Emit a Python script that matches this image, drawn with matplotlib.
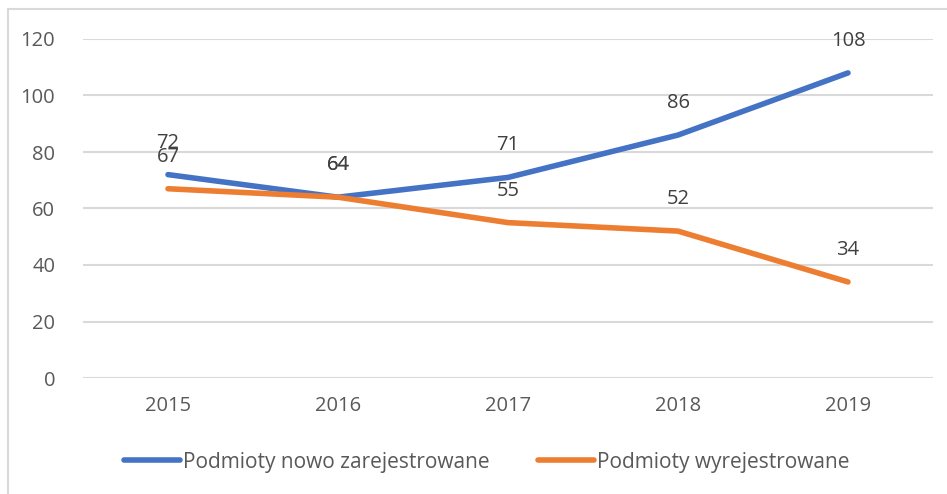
import matplotlib.pyplot as plt
from matplotlib.patches import Rectangle

years = ['2015', '2016', '2017', '2018', '2019']
nowe = [72, 64, 71, 86, 108]
wyrej = [67, 64, 55, 52, 34]
yticks = [0, 20, 40, 60, 80, 100, 120]

plt.rcParams['font.family'] = ['Open Sans', 'DejaVu Sans']

W, H = 947, 494
fig = plt.figure(figsize=(W / 100, H / 100), dpi=100)
# ramka wykresu (widoczna tylko z lewej i u góry)
fig.patches.append(Rectangle((8 / W, -0.1), 1.2, 1.1 - 9 / H, transform=fig.transFigure,
                             fill=False, edgecolor='#d9d9d9', lw=1.5))

ax = fig.add_axes([83 / W, 1 - 378 / H, 850 / W, 339 / H])
x = range(len(years))
ax.plot(x, nowe, color='#4472c4', lw=4, solid_capstyle='round',
        label='Podmioty nowo zarejestrowane', zorder=3)
ax.plot(x, wyrej, color='#ed7d31', lw=4, solid_capstyle='round',
        label='Podmioty wyrejestrowane', zorder=3)

for xi, v in zip(x, nowe):
    ax.annotate(str(v), (xi, v), xytext=(0, 23), textcoords='offset points',
                ha='center', va='center', fontsize=14.5, color='#404040')
for xi, v in zip(x, wyrej):
    ax.annotate(str(v), (xi, v), xytext=(0, 23), textcoords='offset points',
                ha='center', va='center', fontsize=14.5, color='#404040')

ax.set_xlim(-0.5, 4.5)
ax.set_ylim(0, 120)
ax.set_yticks(yticks)
ax.set_xticks(list(x))
ax.set_xticklabels(years)
ax.grid(axis='y', color='#d9d9d9', lw=1.5)
ax.set_axisbelow(True)
for s in ax.spines.values():
    s.set_visible(False)
ax.tick_params(length=0, labelsize=14.5, labelcolor='#595959')
ax.tick_params(axis='y', pad=20)
ax.tick_params(axis='x', pad=13)

fig.legend(loc='center', bbox_to_anchor=(487 / W, 1 - 462 / H), ncol=2,
           frameon=False, fontsize=15, handlelength=2.7, handletextpad=0.15,
           columnspacing=2.3, labelcolor='#595959')

fig.savefig('out.png', dpi=100)
